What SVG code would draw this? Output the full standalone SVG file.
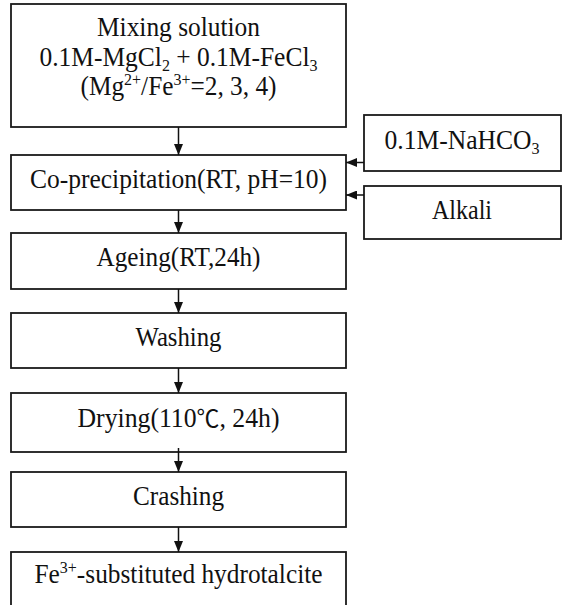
<svg xmlns="http://www.w3.org/2000/svg" width="563" height="605" viewBox="0 0 563 605">
<style>
.box{fill:#fff;stroke:#1a1a1a;stroke-width:1.8}
.t{font-family:"Liberation Serif","Times New Roman",serif;font-size:27px;fill:#111;text-anchor:middle}
.sub{font-size:17px}
.conn line{stroke:#111;stroke-width:1.5;marker-end:url(#ah)}
</style>
<defs>
<marker id="ah" markerUnits="userSpaceOnUse" markerWidth="11" markerHeight="9" refX="11" refY="4.5" viewBox="0 0 11 9" orient="auto">
<path d="M0,0 L11,4.5 L0,9 z" fill="#111"/>
</marker>
</defs>
<rect width="563" height="605" fill="#fff"/>
<g id="mixing">
<rect class="box" x="11" y="4" width="335" height="123"/>
<text class="t" x="178.5" y="36" textLength="163" lengthAdjust="spacingAndGlyphs">Mixing solution</text>
<text class="t" x="178.5" y="66" textLength="278" lengthAdjust="spacingAndGlyphs">0.1M-MgCl<tspan class="sub" dy="5">2</tspan><tspan dy="-5"> + 0.1M-FeCl</tspan><tspan class="sub" dy="5">3</tspan></text>
<text class="t" x="178.5" y="95" textLength="196" lengthAdjust="spacingAndGlyphs">(Mg<tspan class="sub" dy="-10">2+</tspan><tspan dy="10">/Fe</tspan><tspan class="sub" dy="-10">3+</tspan><tspan dy="10">=2, 3, 4)</tspan></text>
</g>
<g id="coprecipitation">
<rect class="box" x="11" y="155" width="335" height="55"/>
<text class="t" x="178.5" y="188" textLength="297" lengthAdjust="spacingAndGlyphs">Co-precipitation(RT, pH=10)</text>
</g>
<g id="nahco3">
<rect class="box" x="364" y="115" width="197" height="56"/>
<text class="t" x="462" y="149" textLength="155" lengthAdjust="spacingAndGlyphs">0.1M-NaHCO<tspan class="sub" dy="5">3</tspan></text>
</g>
<g id="alkali">
<rect class="box" x="364" y="186" width="197" height="53"/>
<text class="t" x="462" y="219" textLength="60" lengthAdjust="spacingAndGlyphs">Alkali</text>
</g>
<g id="ageing">
<rect class="box" x="11" y="233" width="335" height="56"/>
<text class="t" x="178.5" y="266" textLength="164" lengthAdjust="spacingAndGlyphs">Ageing(RT,24h)</text>
</g>
<g id="washing">
<rect class="box" x="11" y="313" width="335" height="55"/>
<text class="t" x="178.5" y="346" textLength="86" lengthAdjust="spacingAndGlyphs">Washing</text>
</g>
<g id="drying">
<rect class="box" x="11" y="393" width="335" height="59"/>
<text class="t" x="178.5" y="427" textLength="202" lengthAdjust="spacingAndGlyphs">Drying(110<tspan style="font-family:'Noto Sans CJK KR','Noto Sans',sans-serif;font-size:24px">℃</tspan>, 24h)</text>
</g>
<g id="crashing">
<rect class="box" x="11" y="472" width="335" height="55"/>
<text class="t" x="178.5" y="505" textLength="91" lengthAdjust="spacingAndGlyphs">Crashing</text>
</g>
<g id="product">
<rect class="box" x="11" y="552" width="335" height="70"/>
<text class="t" x="178.5" y="583" textLength="288" lengthAdjust="spacingAndGlyphs">Fe<tspan class="sub" dy="-10">3+</tspan><tspan dy="10">-substituted hydrotalcite</tspan></text>
</g>
<g id="connectors" class="conn">
<line x1="178.5" y1="127" x2="178.5" y2="155"/>
<line x1="364" y1="162.5" x2="346" y2="162.5"/>
<line x1="364" y1="195" x2="346" y2="195"/>
<line x1="178.5" y1="210" x2="178.5" y2="233"/>
<line x1="178.5" y1="289" x2="178.5" y2="313"/>
<line x1="178.5" y1="368" x2="178.5" y2="393"/>
<line x1="178.5" y1="448" x2="178.5" y2="472"/>
<line x1="178.5" y1="527" x2="178.5" y2="552"/>
</g>
</svg>
